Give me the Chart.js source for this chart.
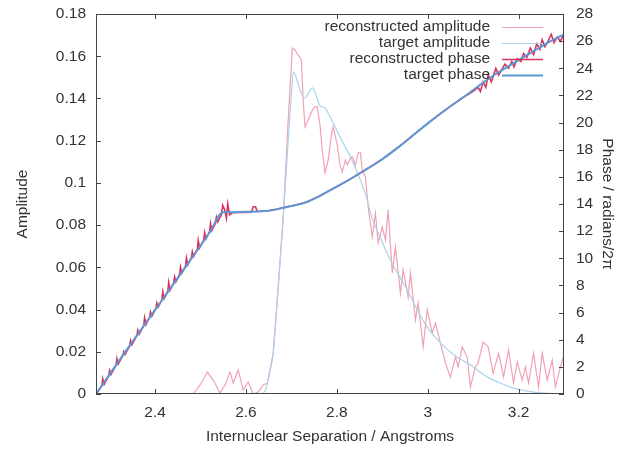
<!DOCTYPE html>
<html>
<head>
<meta charset="utf-8">
<script src="https://cdn.jsdelivr.net/npm/chart.js@4.4.0/dist/chart.umd.min.js"></script>
<style>
  html, body { margin: 0; padding: 0; background: #fff; }
</style>
</head>
<body>
<canvas id="ampPhaseChart" width="618" height="449"></canvas>
<script>
// tick values
const xTicks = [2.4, 2.6, 2.8, 3.0, 3.2];
const ampTicks = [0, 0.02, 0.04, 0.06, 0.08, 0.1, 0.12, 0.14, 0.16, 0.18];
const phaseTicks = [0, 2, 4, 6, 8, 10, 12, 14, 16, 18, 20, 22, 24, 26, 28];

const legendLabels = ['reconstructed amplitude', 'target amplitude', 'reconstructed phase', 'target phase'];

// reconstructed amplitude
const recAmpX = [2.27, 2.484, 2.499, 2.515, 2.528, 2.543, 2.554, 2.565, 2.572, 2.583, 2.594, 2.605, 2.616, 2.627, 2.638, 2.647,
  2.653, 2.660, 2.671, 2.682, 2.693, 2.702, 2.708, 2.715, 2.722, 2.726, 2.730, 2.737, 2.746, 2.752, 2.757, 2.763, 2.768,
  2.774, 2.781, 2.788, 2.792, 2.801, 2.807, 2.812, 2.819, 2.823, 2.830, 2.834, 2.841, 2.847, 2.852, 2.856, 2.863, 2.869,
  2.878, 2.885, 2.891, 2.900, 2.907, 2.913, 2.922, 2.929, 2.940, 2.946, 2.957, 2.962, 2.973, 2.979, 2.990, 2.999, 3.010,
  3.017, 3.028, 3.039, 3.050, 3.061, 3.067, 3.076, 3.087, 3.094, 3.105, 3.111, 3.122, 3.133, 3.144, 3.156, 3.167, 3.178,
  3.189, 3.197, 3.208, 3.215, 3.222, 3.233, 3.244, 3.252, 3.263, 3.274, 3.281, 3.292, 3.30];
const recAmpY = [0, 0, 0.0043, 0.0104, 0.0066, 0.0005, 0.0043, 0.0104, 0.0052, 0.0114, 0.0019, 0.0057, 0, 0.0009, 0.0043, 0.0052,
  0.0114, 0.0194, 0.0507, 0.0834, 0.1298, 0.1639, 0.1630, 0.1606, 0.1582, 0.1393, 0.1265, 0.1298, 0.1345, 0.1360, 0.1360, 0.1274, 0.1156,
  0.1047, 0.1108, 0.1227, 0.1265, 0.1180, 0.1085, 0.1052, 0.1108, 0.1085, 0.1118, 0.1123, 0.1085, 0.1142, 0.1142, 0.1061, 0.1028, 0.0886,
  0.0744, 0.0857, 0.0715, 0.0791, 0.0730, 0.0872, 0.0573, 0.0696, 0.0478, 0.0587, 0.0459, 0.0573, 0.0351, 0.0431, 0.0223, 0.0398, 0.0289,
  0.0336, 0.0242, 0.0147, 0.0081, 0.0175, 0.0128, 0.0223, 0.0175, 0.0033, 0.0128, 0.0147, 0.0246, 0.0223, 0.0099, 0.0194, 0.0081, 0.0208,
  0.0052, 0.0152, 0.0066, 0.0128, 0.0052, 0.0194, 0.0033, 0.0194, 0.0066, 0.0161, 0.0033, 0.0128, 0.0185];

// target amplitude
const tgtAmpX = [2.27, 2.636, 2.640, 2.644, 2.647, 2.653, 2.660, 2.671, 2.682, 2.693, 2.700, 2.704, 2.711, 2.719, 2.730, 2.739,
  2.746, 2.755, 2.763, 2.774, 2.783, 2.792, 2.807, 2.830, 2.852, 2.867, 2.874, 2.896, 2.918, 2.940, 2.955, 2.977, 2.999,
  3.028, 3.061, 3.094, 3.131, 3.160, 3.189, 3.233, 3.30];
const tgtAmpY = [0, 0, 0.0009, 0.0024, 0.005, 0.011, 0.0194, 0.0507, 0.0834, 0.1203, 0.1416, 0.1525, 0.1497, 0.1440, 0.1402, 0.1431,
  0.1450, 0.1412, 0.1364, 0.1355, 0.1322, 0.1284, 0.1217, 0.1123, 0.1014, 0.092, 0.0857, 0.0739, 0.0635, 0.0549, 0.0493, 0.0398, 0.0317,
  0.0242, 0.0180, 0.0137, 0.0081, 0.0052, 0.0028, 0.0009, 0];

// reconstructed phase
const recPhaseX = [2.270,
  2.283, 2.285, 2.288, 2.298, 2.300, 2.303, 2.314, 2.316, 2.319, 2.329, 2.331, 2.334,
  2.344, 2.346, 2.349, 2.360, 2.362, 2.365, 2.375, 2.377, 2.380, 2.388, 2.390, 2.393,
  2.402, 2.404, 2.407, 2.415, 2.417, 2.420, 2.428, 2.430, 2.433, 2.441, 2.443, 2.446,
  2.454, 2.456, 2.459, 2.467, 2.469, 2.472, 2.480, 2.482, 2.485, 2.493, 2.495, 2.498,
  2.507, 2.509, 2.512, 2.520, 2.522, 2.525, 2.533, 2.535, 2.538,
  2.546, 2.549, 2.553, 2.557, 2.560, 2.564, 2.570, 2.612, 2.616, 2.621, 2.625,
  2.65, 2.68, 2.70, 2.73, 2.76, 2.79, 2.82, 2.86, 2.90, 2.94, 2.98, 3.01, 3.05, 3.08, 3.100,
  3.111, 3.116, 3.122, 3.128, 3.133, 3.140, 3.144, 3.150, 3.156, 3.163, 3.170, 3.178, 3.185, 3.190,
  3.197, 3.205, 3.211, 3.218, 3.226, 3.233, 3.240, 3.247, 3.252, 3.258, 3.265, 3.272, 3.278, 3.285, 3.292, 3.301];
const recPhaseY = [0,
  0.62, 1.12, 0.71, 1.34, 1.74, 1.43, 2.11, 2.60, 2.20, 2.82, 3.12, 2.91,
  3.54, 3.94, 3.63, 4.31, 4.70, 4.40, 5.03, 5.62, 5.11, 5.65, 6.04, 5.74,
  6.32, 6.71, 6.41, 6.94, 7.54, 7.03, 7.56, 8.21, 7.65, 8.18, 8.63, 8.27,
  8.81, 9.35, 8.90, 9.43, 10.02, 9.52, 10.05, 10.50, 10.14, 10.67, 11.32, 10.76,
  11.34, 11.89, 11.43, 11.97, 12.56, 12.05, 12.59, 13.03, 12.68,
  13.2, 13.9, 13.6, 12.95, 14.0, 13.2, 13.35, 13.4, 13.8, 13.8, 13.45,
  13.5, 13.7, 13.85, 14.1, 14.55, 15.1, 15.65, 16.45, 17.3, 18.3, 19.4, 20.2, 21.2, 21.9, 22.3,
  22.6, 22.3, 23.0, 22.6, 23.5, 23.0, 23.4, 24.0, 23.5, 23.9, 24.3, 24.0, 24.5, 24.1,
  24.7, 24.5, 25.1, 24.8, 25.5, 25.0, 25.8, 25.4, 26.1, 25.6, 26.0, 26.5, 25.9, 26.3, 26.0, 26.6];

// target phase
const tgtPhaseX = [2.27, 2.33, 2.40, 2.47, 2.52, 2.55, 2.57, 2.60, 2.65, 2.68, 2.70, 2.73, 2.76, 2.79, 2.82, 2.86,
  2.90, 2.94, 2.98, 3.01, 3.05, 3.08, 3.12, 3.16, 3.19, 3.23, 3.26, 3.30];
const tgtPhaseY = [0, 2.9, 6.2, 9.5, 11.9, 13.4, 13.4, 13.42, 13.5, 13.7, 13.85, 14.1, 14.55, 15.1, 15.65, 16.45,
  17.3, 18.3, 19.4, 20.2, 21.2, 21.9, 22.9, 23.8, 24.4, 25.2, 25.8, 26.5];

const pts = (xs, ys) => xs.map((x, i) => ({ x, y: ys[i] }));

const FONT = '"Liberation Sans", Arial, Helvetica, sans-serif';
const TXT = '#333333';
const colors = ['#f2a0b4', '#a9d3ea', '#d8345c', '#5a98d6'];
const widths = [1.2, 1.2, 1.6, 2];

// gnuplot style frame with inward ticks
const frameTicks = {
  id: 'frameTicks',
  afterDatasetsDraw(chart) {
    const { ctx, chartArea: a, scales } = chart;
    const len = 5;
    ctx.save();
    ctx.strokeStyle = '#444';
    ctx.lineWidth = 1;
    ctx.strokeRect(a.left + 0.5, a.top + 0.5, a.right - a.left - 1, a.bottom - a.top - 1);
    ctx.beginPath();
    scales.x.ticks.forEach(t => {
      const p = Math.round(scales.x.getPixelForValue(t.value)) + 0.5;
      ctx.moveTo(p, a.bottom); ctx.lineTo(p, a.bottom - len);
      ctx.moveTo(p, a.top); ctx.lineTo(p, a.top + len);
    });
    scales.y.ticks.forEach(t => {
      const p = Math.round(scales.y.getPixelForValue(t.value)) + 0.5;
      ctx.moveTo(a.left, p); ctx.lineTo(a.left + len, p);
    });
    scales.y2.ticks.forEach(t => {
      const p = Math.round(scales.y2.getPixelForValue(t.value)) + 0.5;
      ctx.moveTo(a.right, p); ctx.lineTo(a.right - len, p);
    });
    ctx.stroke();
    ctx.restore();
  }
};

// legend: right aligned text with line sample on the right
const keyLegend = {
  id: 'keyLegend',
  afterDraw(chart) {
    const { ctx } = chart;
    const rows = [27, 43, 59, 75];
    ctx.save();
    ctx.font = '15.5px ' + FONT;
    ctx.textAlign = 'right';
    ctx.textBaseline = 'middle';
    legendLabels.forEach((lbl, i) => {
      ctx.fillStyle = TXT;
      ctx.fillText(lbl, 490, rows[i]);
      ctx.strokeStyle = colors[i];
      ctx.lineWidth = widths[i];
      ctx.beginPath();
      ctx.moveTo(502, rows[i] + 0.5);
      ctx.lineTo(543, rows[i] + 0.5);
      ctx.stroke();
    });
    ctx.restore();
  }
};

const setTicks = vals => scale => { scale.ticks = vals.map(v => ({ value: v })); };
const fmt = v => String(+Number(v).toFixed(2));

new Chart(document.getElementById('ampPhaseChart'), {
  type: 'scatter',
  data: {
    datasets: [
      { label: legendLabels[0], data: pts(recAmpX, recAmpY), yAxisID: 'y', borderColor: colors[0], borderWidth: widths[0], order: 3 },
      { label: legendLabels[1], data: pts(tgtAmpX, tgtAmpY), yAxisID: 'y', borderColor: colors[1], borderWidth: widths[1], order: 2,
        cubicInterpolationMode: 'monotone' },
      { label: legendLabels[2], data: pts(recPhaseX, recPhaseY), yAxisID: 'y2', borderColor: colors[2], borderWidth: widths[2], order: 1 },
      { label: legendLabels[3], data: pts(tgtPhaseX, tgtPhaseY), yAxisID: 'y2', borderColor: colors[3], borderWidth: widths[3], order: 0,
        cubicInterpolationMode: 'monotone' }
    ].map(d => Object.assign(d, { showLine: true, pointRadius: 0, fill: false }))
  },
  options: {
    responsive: false,
    animation: false,
    layout: { padding: { top: 14, left: 0, right: 0, bottom: 0 } },
    plugins: { legend: { display: false }, tooltip: { enabled: false } },
    scales: {
      x: {
        type: 'linear', min: 2.27, max: 3.30,
        afterBuildTicks: setTicks(xTicks),
        afterFit(s) { s.height = 55; s.paddingLeft = 0; s.paddingRight = 0; },
        grid: { display: false, drawTicks: false },
        border: { display: false },
        ticks: { padding: 9, color: TXT, font: { family: FONT, size: 15.5 }, callback: fmt, maxRotation: 0 },
        title: { display: true, text: 'Internuclear Separation / Angstroms', color: TXT, font: { family: FONT, size: 15.5 }, padding: { top: 0, bottom: 3 } }
      },
      y: {
        position: 'left', min: 0, max: 0.18,
        afterBuildTicks: setTicks(ampTicks),
        afterFit(s) { s.width = 96; s.paddingTop = 0; s.paddingBottom = 0; },
        grid: { display: false, drawTicks: false },
        border: { display: false },
        ticks: { padding: 10, color: TXT, font: { family: FONT, size: 15.5 }, callback: fmt },
        title: { display: true, text: 'Amplitude', color: TXT, font: { family: FONT, size: 15.5 }, padding: { top: 13, bottom: 0 } }
      },
      y2: {
        position: 'right', min: 0, max: 28,
        afterBuildTicks: setTicks(phaseTicks),
        afterFit(s) { s.width = 54; s.paddingTop = 0; s.paddingBottom = 0; },
        grid: { display: false, drawTicks: false },
        border: { display: false },
        ticks: { padding: 12, color: TXT, font: { family: FONT, size: 15.5 }, callback: fmt },
        title: { display: true, text: 'Phase / radians/2\u03c0', color: TXT, font: { family: FONT, size: 15.5 }, padding: { top: 1, bottom: 0 } }
      }
    }
  },
  plugins: [frameTicks, keyLegend]
});
</script>
</body>
</html>
